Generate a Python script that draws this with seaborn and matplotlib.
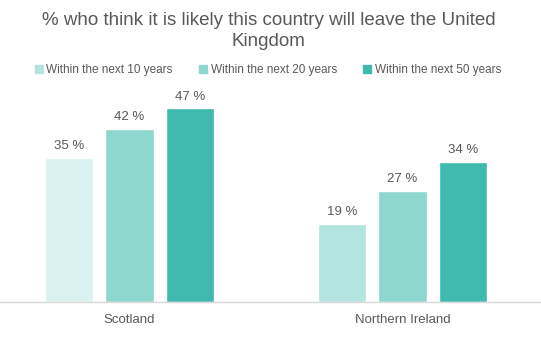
import numpy as np
import pandas as pd
import matplotlib
matplotlib.use("Agg")
import matplotlib.pyplot as plt
import seaborn as sns

regions = ["Scotland", "Northern Ireland"]
periods = ["Within the next 10 years", "Within the next 20 years", "Within the next 50 years"]
scotland = [35, 42, 47]
northern_ireland = [19, 27, 34]

colors = ["#B4E4DF", "#8DD7CE", "#40B9AF"]
TXT = "#595959"

df = pd.DataFrame({
    "region": [regions[0]] * 3 + [regions[1]] * 3,
    "period": periods * 2,
    "pct": scotland + northern_ireland,
})

sns.set_style("white")
plt.rcParams['font.family'] = ['Liberation Sans', 'DejaVu Sans']

fig = plt.figure(figsize=(5.41, 3.53), dpi=100)
ax = fig.add_axes([0.0, 0.1445, 540 / 541, 206 / 353])

sns.barplot(data=df, x="region", y="pct", hue="period", hue_order=periods,
            order=regions, palette=colors, width=0.665, gap=0.2,
            saturation=1, legend=False, ax=ax)

# the Scotland 10-year bar is drawn lighter in the original
ax.containers[0][0].set_facecolor("#DAF2EF")

for c in ax.containers:
    ax.bar_label(c, labels=[f"{int(v)} %" for v in c.datavalues],
                 padding=4, fontsize=9.5, color=TXT)

ax.set_ylim(0, 50)
ax.set_xlim(-0.474, 1.504)
ax.set_xlabel("")
ax.set_ylabel("")
ax.set_yticks([])
ax.tick_params(axis="x", length=0, labelsize=9.5, labelcolor=TXT, pad=9)
for s in ["top", "right", "left"]:
    ax.spines[s].set_visible(False)
ax.spines["bottom"].set_color("#D9D9D9")
ax.spines["bottom"].set_linewidth(1)

handles = [plt.Rectangle((0, 0), 1, 1, color=col) for col in colors]
fig.legend(handles, periods, loc="center", bbox_to_anchor=(0.495, 0.802),
           ncol=3, frameon=False, fontsize=8.5, labelcolor=TXT,
           handlelength=0.7, handleheight=0.7, handletextpad=0.3,
           columnspacing=2.2)

fig.text(0.497, 0.912, "% who think it is likely this country will leave the United\nKingdom",
         ha="center", va="center", fontsize=13.5, color=TXT, linespacing=1.3)

fig.savefig("out.png", dpi=100)
